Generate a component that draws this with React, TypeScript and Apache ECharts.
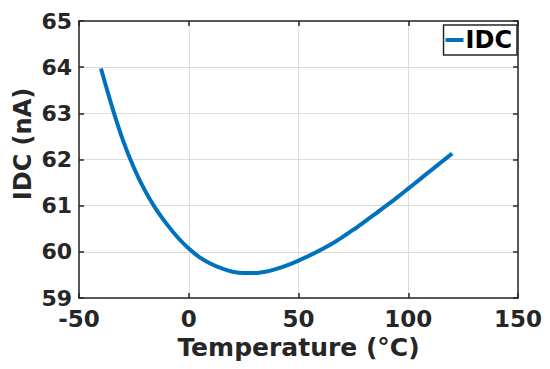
import React, { useEffect, useRef } from "react";
import * as echarts from "echarts";

const temperature = [-40, -35, -30, -25, -20, -15, -10, -5, 0, 5, 10, 15, 20, 25, 30, 35, 40, 45, 50, 55, 60, 65, 70, 75, 80, 85, 90, 95, 100, 105, 110, 115, 120];
const idc = [63.97, 63.15, 62.42, 61.82, 61.33, 60.93, 60.6, 60.31, 60.07, 59.88, 59.74, 59.64, 59.57, 59.54, 59.54, 59.57, 59.63, 59.71, 59.81, 59.92, 60.04, 60.17, 60.32, 60.48, 60.65, 60.82, 61.0, 61.18, 61.37, 61.56, 61.75, 61.94, 62.13];
const seriesName = "IDC";
const xTitle = "Temperature (°C)";
const yTitle = "IDC (nA)";

const FONT = "DejaVu Sans";
const TXT = "#262626";

export default function App() {
  const ref = useRef<HTMLDivElement>(null);
  useEffect(() => {
    if (!ref.current) return;
    const chart = echarts.init(ref.current, undefined, { renderer: "svg" });
    const axisLine = { show: true, onZero: false, lineStyle: { color: TXT, width: 1.5 } };
    const tick = { show: true, inside: true, length: 5, lineStyle: { color: TXT, width: 1.5 } };
    const grid = { show: true, lineStyle: { color: "#dcdcdc", width: 1 } };
    chart.setOption({
      animation: false,
      backgroundColor: "#ffffff",
      grid: { left: 79, right: 32, top: 21, bottom: 71 },
      legend: {
        data: [{ name: seriesName, icon: "rect" }],
        right: 33,
        top: 25,
        itemWidth: 18,
        itemHeight: 4,
        itemGap: 2,
        padding: [3, 5, 3, 2],
        borderColor: TXT,
        borderWidth: 1.5,
        textStyle: { fontFamily: FONT, fontWeight: "bold", fontSize: 24, lineHeight: 24, color: "#000", padding: [0, 0, 0, -3] },
      },
      graphic: [
        {
          type: "text",
          x: 23,
          y: 144,
          rotation: Math.PI / 2,
          style: {
            text: yTitle,
            fontFamily: FONT,
            fontWeight: "bold",
            fontSize: 24,
            fill: TXT,
            align: "center",
            verticalAlign: "middle",
          },
        },
      ],
      xAxis: [
        {
          type: "value",
          min: -50,
          max: 150,
          interval: 50,
          name: xTitle,
          nameLocation: "middle",
          nameGap: 36,
          nameTextStyle: { fontFamily: FONT, fontWeight: "bold", fontSize: 25, color: TXT },
          axisLine,
          axisTick: tick,
          axisLabel: { fontFamily: FONT, fontWeight: "bold", fontSize: 23, lineHeight: 18, color: TXT, margin: 12 },
          splitLine: grid,
        },
        {
          type: "value",
          position: "top",
          min: -50,
          max: 150,
          interval: 50,
          axisLine,
          axisTick: tick,
          axisLabel: { show: false },
          splitLine: { show: false },
        },
      ],
      yAxis: [
        {
          type: "value",
          min: 59,
          max: 65,
          interval: 1,
          axisLine,
          axisTick: tick,
          axisLabel: { fontFamily: FONT, fontWeight: "bold", fontSize: 22, lineHeight: 18, color: TXT, margin: 7 },
          splitLine: grid,
        },
        {
          type: "value",
          position: "right",
          min: 59,
          max: 65,
          interval: 1,
          axisLine,
          axisTick: tick,
          axisLabel: { show: false },
          splitLine: { show: false },
        },
      ],
      series: [
        {
          name: seriesName,
          type: "line",
          data: temperature.map((t, i) => [t, idc[i]]),
          smooth: 0.2,
          showSymbol: false,
          symbol: "none",
          color: "#0072BD",
          lineStyle: { color: "#0072BD", width: 4 },
        },
      ],
    });
    return () => chart.dispose();
  }, []);
  return <div ref={ref} style={{ position: "fixed", left: 0, top: 0, width: 550, height: 369 }} />;
}
